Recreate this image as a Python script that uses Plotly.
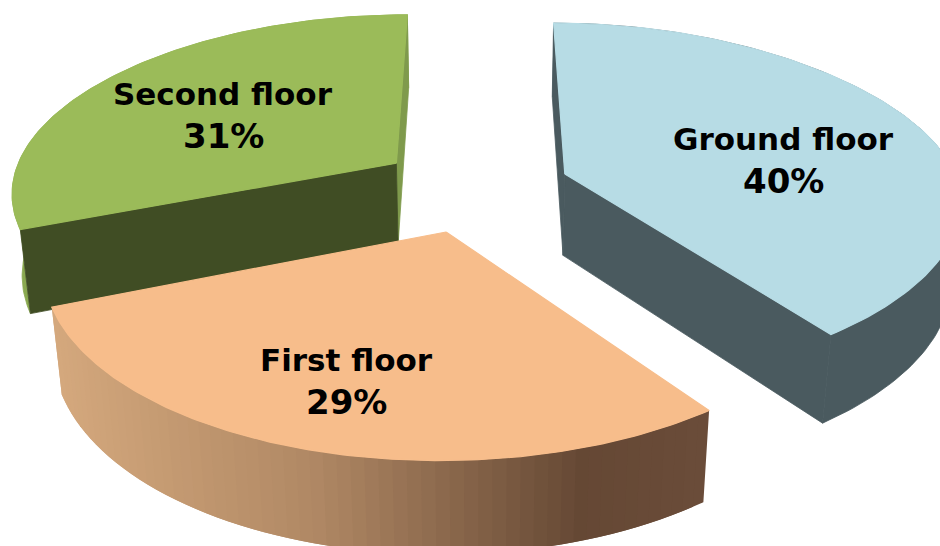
import numpy as np
import plotly.graph_objects as go

# Chart data
categories = ["Ground floor", "First floor", "Second floor"]
shares = [40, 29, 31]

# Face colours per slice: top, the cut faces at each end of the arc, outer wall
TOP = {"Ground floor": "#b7dce5", "First floor": "#f7bd8b", "Second floor": "#9bbb59"}
CUT_START = {"Ground floor": "#4a5a5f", "Second floor": "#404d24"}
CUT_END = {"Ground floor": "#4a5a5f", "Second floor": "#7f9a4c"}
WALL = {"Ground floor": "#4a5a5f", "Second floor": "#8aa950"}

# Camera model of the tilted, exploded pie
VIEW_X = 480.0
HORIZON = -968.0
PLANE_TOP = 1200.0
PLANE_DROP = 113.0
DEPTH_SHRINK = 0.0225
RADIUS_X = 397.0
PUSH = 100.0
CENTER_X = -6.0
BASE_W = 1.0384
TILT_R = 0.16
TILT_PUSH = 0.04
# Slight widening of the rim near the horizontal extremes of each slice
BULGE = {"Ground floor": 0.032, "First floor": 0.0, "Second floor": 0.01}


def project(angle, radius, mid, lower=False, bulge=0.0):
    """Map a polar point on a slice (angle clockwise from 12 o'clock) to the page."""
    a, m = np.radians(angle), np.radians(mid)
    stretch = 1 + bulge * np.sin(a) ** 4
    u = CENTER_X + PUSH * np.sin(m) + RADIUS_X * radius * np.sin(a) * stretch
    w = BASE_W + TILT_PUSH * np.cos(m) + TILT_R * radius * np.cos(a)
    plane = PLANE_TOP
    if lower:
        w = w + DEPTH_SHRINK
        plane = PLANE_TOP + PLANE_DROP
    return VIEW_X + u / w, HORIZON + plane / w


def polygon(name, xs, ys, colour, edge=0.8):
    return go.Scatter(
        x=list(xs), y=list(ys), mode="lines", fill="toself", fillcolor=colour,
        line=dict(color=colour, width=edge), hoverinfo="skip", showlegend=False, name=name,
    )


def wall_shade(x):
    # Horizontal light falloff across the front wall of the first-floor slice
    stops = [55, 320, 590, 710]
    r = np.interp(x, stops, [212, 176, 101, 106])
    g = np.interp(x, stops, [168, 136, 72, 76])
    b = np.interp(x, stops, [125, 100, 52, 57])
    return f"rgb({r:.0f},{g:.0f},{b:.0f})"


spans = {}
start = 0.0
total = sum(shares)
for cat, val in zip(categories, shares):
    spans[cat] = (start, start + 360.0 * val / total)
    start += 360.0 * val / total

fig = go.Figure()

# Back slices first so the first-floor slice overlaps them
for cat in ["Second floor", "Ground floor", "First floor"]:
    a0, a1 = spans[cat]
    mid = (a0 + a1) / 2
    arc = np.linspace(a0, a1, 121)
    bulge = BULGE[cat]

    top_x, top_y = project(arc, 1.0, mid, bulge=bulge)
    low_x, low_y = project(arc, 1.0, mid, lower=True, bulge=bulge)

    if cat == "First floor":
        # Each strip runs under the next one so no seams show through
        for i in range(0, len(arc) - 1, 2):
            j = min(i + 4, len(arc) - 1)
            xs = [top_x[i], top_x[j], low_x[j], low_x[i], top_x[i]]
            ys = [top_y[i], top_y[j], low_y[j], low_y[i], top_y[i]]
            fig.add_trace(polygon(cat, xs, ys, wall_shade(top_x[i]), edge=0))
    else:
        fig.add_trace(polygon(cat, np.r_[top_x, low_x[::-1]], np.r_[top_y, low_y[::-1]], WALL[cat]))

        # Cut faces running from the hub to each end of the arc
        for ang, colours in ((a1, CUT_END), (a0, CUT_START)):
            hx, hy = project(ang, 0.0, mid)
            ex, ey = project(ang, 1.0, mid, bulge=bulge)
            bx, by = project(ang, 1.0, mid, lower=True, bulge=bulge)
            cx, cy = project(ang, 0.0, mid, lower=True)
            fig.add_trace(polygon(cat, [hx, ex, bx, cx, hx], [hy, ey, by, cy, hy], colours[cat]))

    hx, hy = project(a0, 0.0, mid)
    fig.add_trace(polygon(cat, np.r_[hx, top_x, hx], np.r_[hy, top_y, hy], TOP[cat], edge=1.2))

# Centre x, then the y of the name line and of the percentage line
label_anchor = {
    "Ground floor": (783, 139, 181),
    "First floor": (346, 360, 402),
    "Second floor": (223, 94, 136),
}
for cat, val in zip(categories, shares):
    lx, name_y, pct_y = label_anchor[cat]
    fig.add_annotation(
        x=lx, y=name_y, showarrow=False, xanchor="center", yanchor="middle", text=cat,
        font=dict(family="DejaVu Sans", size=31, color="#000000", weight="bold"),
    )
    fig.add_annotation(
        x=lx, y=pct_y, showarrow=False, xanchor="center", yanchor="middle", text=f"{val}%",
        font=dict(family="DejaVu Sans", size=34, color="#000000", weight="bold"),
    )

fig.update_layout(
    width=940, height=546, autosize=False,
    margin=dict(l=0, r=0, t=0, b=0),
    paper_bgcolor="white", plot_bgcolor="white",
    xaxis=dict(range=[0, 940], visible=False, fixedrange=True),
    yaxis=dict(range=[546, 0], visible=False, fixedrange=True),
    showlegend=False,
)

fig.write_html("out.html", config={"displayModeBar": False})
